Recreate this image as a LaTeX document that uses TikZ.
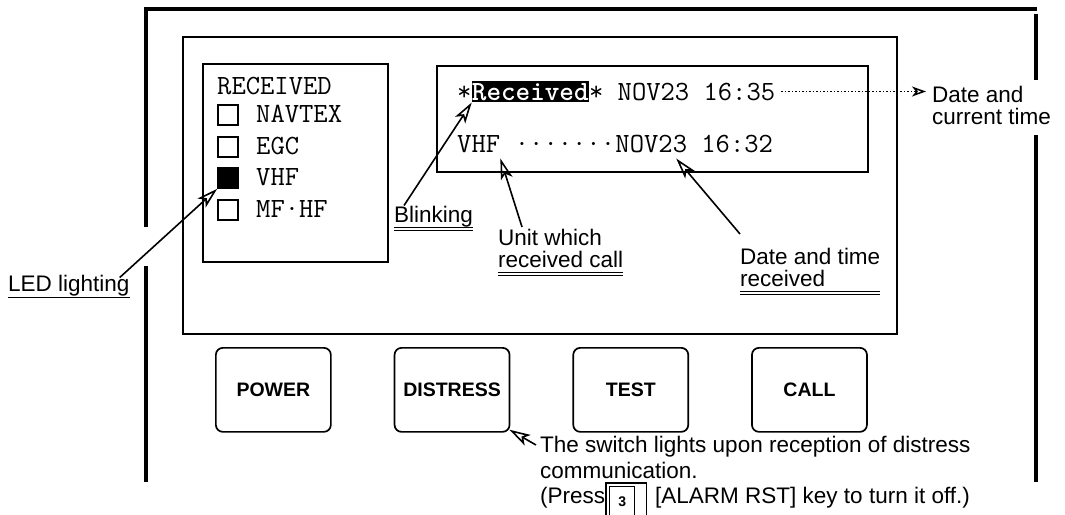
\documentclass[tikz,border=0pt]{standalone}
\usepackage{fontspec}
\setmainfont{Liberation Sans}
\usetikzlibrary{arrows.meta, positioning}

\begin{document}
\begin{tikzpicture}[
    x=1pt, y=-1pt,
    every node/.style={font=\fontsize{22.5}{22}\selectfont, inner sep=0pt},
    frameline/.style={line width=3.2pt},
    panel/.style={draw, line width=1.7pt, anchor=north west},
    lcdbox/.style={draw, line width=2.2pt, anchor=north west},
    btn/.style={draw, rounded corners=7pt, line width=1.7pt, minimum width=115pt, minimum height=84pt, font=\fontsize{19.5}{20}\selectfont\bfseries},
    lcd/.style={font=\fontsize{27.8}{28}\selectfont\ttfamily, anchor=base west},
    hilite/.style={lcd, fill=black, text=white, font=\fontsize{27.8}{28}\selectfont\ttfamily\bfseries, inner ysep=2pt},
    led/.style={draw, line width=1.6pt, minimum size=20pt},
    note/.style={align=left, anchor=north west},
    callout/.style={-{Stealth[open, length=21pt, width=12pt, inset=5pt]}, line width=1.6pt},
    dbl/.style={double, double distance=2pt, line width=1pt}
]

\useasboundingbox (0,0) rectangle (1065,514);

\draw[frameline] (146,227) -- (146,9) -- (1037,9);
\draw[frameline] (146,266) -- (146,482);
\draw[frameline] (1036,14) -- (1036,80);
\draw[frameline] (1036,135) -- (1036,482);

\node[panel, minimum width=714pt, minimum height=297pt] (lcdpanel) at (182,36) {};
\node[lcdbox, minimum width=185pt, minimum height=198pt] (rxbox) at (202,63) {};
\node[lcdbox, minimum width=431pt, minimum height=106pt] (msgbox) at (436,65) {};

\node[lcd] (rxtitle) at (217,94) {RECEIVED};
\foreach \rxname/\yy/\ledfill [count=\i] in {NAVTEX/115/white, EGC/147/white, VHF/178/black, MF·HF/210/white} {
    \node[led, fill=\ledfill] (led\i) at (228,\yy) {};
    \node[lcd] (unit\i) at (256,\yy+7.5) {\rxname};
}

\node[lcd] (star) at (457,100) {*};
\node[hilite] (rcvd) at (star.base east) {Received};
\node[lcd] (nowtime) at (rcvd.base east) {* NOV23 16:35};
\node[lcd] (rxunit) at (457,152) {VHF};
\node[lcd] (leader) at (rxunit.base east) {\ ·······};
\node[lcd] (rxtime) at (leader.base east) {NOV23 16:32};

\node[anchor=base west] (ledlbl) at (8,291) {LED lighting};
\node[anchor=base west] (blinklbl) at (394,222) {Blinking};
\node[note] (unitlbl) at (498,229) {Unit which\\received call};
\node[note] (rxtimelbl) at (740,248) {Date and time\\received};
\node[note] (curtime) at (932,86) {Date and\\current time};

\draw[line width=1.1pt] ([yshift=-2pt]ledlbl.south west) -- ([yshift=-2pt]ledlbl.south east);
\draw[dbl] ([yshift=-2.5pt]blinklbl.south west) -- ([yshift=-2.5pt]blinklbl.south east);
\draw[dbl] ([yshift=-6pt]unitlbl.south west) -- ([yshift=-6pt]unitlbl.south east);
\draw[dbl] ([yshift=-6pt]rxtimelbl.south west) -- ([yshift=-6pt]rxtimelbl.south east);

\node[btn, anchor=north west] (power) at (215,347) {POWER};
\node[btn, right=62pt of power] (distress) {DISTRESS};
\node[btn, right=62pt of distress] (test) {TEST};
\node[btn, right=62pt of test] (call) {CALL};

\node[note, font=\fontsize{22.5}{25.5}\selectfont] (distnote) at (540,436) {The switch lights upon reception of distress\\communication.};
\node[anchor=base west] (press) at (540,503) {(Press};
\node[draw, line width=1.3pt, minimum width=25pt, minimum height=30pt, font=\fontsize{14}{14}\selectfont\bfseries, anchor=north west] (key3) at (609,486) {3};
\draw[line width=1.3pt] ([xshift=-3pt]key3.south west) -- ([xshift=-3pt,yshift=3pt]key3.north west) -| ([xshift=11pt]key3.south east);
\node[anchor=base west] (alarm) at (655,503) {[ALARM RST] key to turn it off.)};

\draw[callout] ([xshift=-10pt,yshift=-3pt]ledlbl.north east) -- (led3.south west);
\draw[callout] ([xshift=10pt]blinklbl.north west) -- (rcvd.south west);
\draw[callout] ([xshift=24pt,yshift=2pt]unitlbl.north west) -- ([yshift=-6pt]rxunit.south east);
\draw[callout] ([yshift=14pt]rxtimelbl.north west) -- ([xshift=-18pt,yshift=-6pt]rxtime.south);
\draw[callout] ([xshift=-4pt,yshift=-9pt]distnote.north west) -- ([xshift=-1pt,yshift=3pt]distress.south east);
\draw[dotted, line width=1.5pt, -{Stealth[open, length=14pt, width=10pt, inset=4pt]}, shorten <=6pt, shorten >=6pt] (nowtime.east) -- (nowtime.east -| curtime.west);

\end{tikzpicture}
\end{document}
